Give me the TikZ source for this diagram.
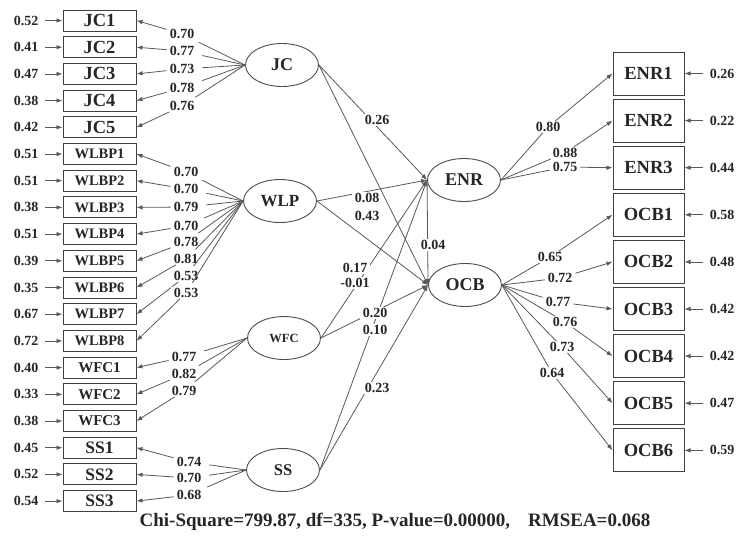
\documentclass[tikz,border=0pt]{standalone}
\usepackage{fontspec}
\setmainfont{Liberation Serif}
\usetikzlibrary{arrows.meta,shapes.geometric}

\begin{document}
\begin{tikzpicture}[x=1pt, y=-1pt,
  every node/.style={font=\bfseries\fontsize{14}{16}\selectfont, text=black!85},
  obs/.style={draw=black!75, line width=1pt, minimum width=73pt, minimum height=21pt, inner sep=0pt},
  obsr/.style={obs, minimum width=71pt, minimum height=43pt, font=\bfseries\fontsize{18.5}{20}\selectfont},
  lat/.style={ellipse, draw=black!70, line width=0.9pt, minimum width=73pt, minimum height=43pt, inner sep=0pt, font=\bfseries\fontsize{18}{20}\selectfont},
  val/.style={inner sep=1pt, inner xsep=3pt, fill=white},
  err/.style={inner sep=1pt, inner xsep=7pt},
  ln/.style={draw=black!65, line width=0.8pt},
  arr/.style={ln, -{Latex[length=6pt,width=4.5pt]}}]
  \useasboundingbox (0,0) rectangle (739,536);

  % indicators, left
  \foreach \nm [count=\i] in {JC1,JC2,JC3,JC4,JC5}
    \node[obs, font=\bfseries\fontsize{18.5}{20}\selectfont] (\nm) at (99.5,{20.5+26.7*(\i-1)}) {\nm};
  \foreach \nm [count=\i from 6] in {WLBP1,WLBP2,WLBP3,WLBP4,WLBP5,WLBP6,WLBP7,WLBP8}
    \node[obs, font=\bfseries\fontsize{14.5}{16}\selectfont] (\nm) at (99.5,{20.5+26.7*(\i-1)}) {\nm};
  \foreach \nm [count=\i from 14] in {WFC1,WFC2,WFC3}
    \node[obs, font=\bfseries\fontsize{15}{17}\selectfont] (\nm) at (99.5,{20.5+26.7*(\i-1)}) {\nm};
  \foreach \nm [count=\i from 17] in {SS1,SS2,SS3}
    \node[obs, font=\bfseries\fontsize{17.5}{19}\selectfont] (\nm) at (99.5,{20.5+26.7*(\i-1)}) {\nm};

  % indicators, right
  \foreach \nm [count=\i] in {ENR1,ENR2,ENR3,OCB1,OCB2,OCB3,OCB4,OCB5,OCB6}
    \node[obsr] (\nm) at (648.5,{73.5+47.1*(\i-1)}) {\nm};

  % latent variables
  \node[lat] (JC) at (282,65) {JC};
  \node[lat, font=\bfseries\fontsize{17}{19}\selectfont] (WLP) at (280,201) {WLP};
  \node[lat, font=\bfseries\fontsize{12.5}{14}\selectfont] (WFC) at (284,338) {WFC};
  \node[lat, font=\bfseries\fontsize{16.5}{18}\selectfont] (SS) at (283,470) {SS};
  \node[lat] (ENR) at (464,180) {ENR};
  \node[lat] (OCB) at (465,285) {OCB};

  % error variances
  \foreach \nm/\e in {JC1/0.52, JC2/0.41, JC3/0.47, JC4/0.38, JC5/0.42,
      WLBP1/0.51, WLBP2/0.51, WLBP3/0.38, WLBP4/0.51, WLBP5/0.39, WLBP6/0.35, WLBP7/0.67, WLBP8/0.72,
      WFC1/0.40, WFC2/0.33, WFC3/0.38, SS1/0.45, SS2/0.52, SS3/0.54} {
    \node[err] (e\nm) at ([xshift=-73.5pt]\nm.center) {\e};
    \draw[arr] (e\nm) -- (\nm);
  }
  \foreach \nm/\e in {ENR1/0.26, ENR2/0.22, ENR3/0.44, OCB1/0.58, OCB2/0.48,
      OCB3/0.42, OCB4/0.42, OCB5/0.47, OCB6/0.59} {
    \node[err] (e\nm) at ([xshift=73.5pt]\nm.center) {\e};
    \draw[arr] (e\nm) -- (\nm);
  }

  % loadings, left
  \foreach \lv/\nm/\v/\x/\y in {JC/JC1/0.70/182/34, JC/JC2/0.77/182/51, JC/JC3/0.73/182/69,
      JC/JC4/0.78/182/88, JC/JC5/0.76/182/106,
      WLP/WLBP1/0.70/186/172, WLP/WLBP2/0.70/186/189, WLP/WLBP3/0.79/186/207, WLP/WLBP4/0.70/186/226,
      WLP/WLBP5/0.78/186/242, WLP/WLBP6/0.81/186/259, WLP/WLBP7/0.53/186/276, WLP/WLBP8/0.53/186/293,
      WFC/WFC1/0.77/184/357, WFC/WFC2/0.82/184/374, WFC/WFC3/0.79/184/391,
      SS/SS1/0.74/189/462, SS/SS2/0.70/189/478, SS/SS3/0.68/189/495} {
    \node[val] (l\nm) at (\x,\y) {\v};
    \draw[ln, shorten >=5pt] (\lv.west) -- (l\nm);
    \draw[arr] (l\nm) -- (\nm.east);
  }

  % loadings, right
  \foreach \lv/\nm/\v/\x/\y in {ENR/ENR1/0.80/548/127, ENR/ENR2/0.88/565/153, ENR/ENR3/0.75/565/167,
      OCB/OCB1/0.65/550/257, OCB/OCB2/0.72/560/278, OCB/OCB3/0.77/558/302,
      OCB/OCB4/0.76/565/322, OCB/OCB5/0.73/562/347, OCB/OCB6/0.64/552/373} {
    \node[val] (l\nm) at (\x,\y) {\v};
    \draw[ln] (\lv.east) -- (l\nm);
    \draw[arr] (l\nm) -- (\nm.west);
  }

  % structural paths
  \foreach \a in {JC,WLP,WFC,SS} {
    \draw[arr] (\a.east) -- (ENR.west);
    \draw[arr] (\a.east) -- (OCB.west);
  }
  \draw[arr] (ENR.west) -- (OCB.west);

  % path coefficients
  \foreach \v/\x/\y [count=\k] in {0.26/377/120, 0.08/367/198, 0.43/367/216, 0.04/433/245,
      0.17/355/268, -0.01/355/283, 0.20/375/313, 0.10/375/330, 0.23/377/388}
    \node[val] (c\k) at (\x,\y) {\v};

  % fit
  \node[font=\bfseries\fontsize{19}{21}\selectfont] (stats) at (395,522)
    {Chi-Square=799.87, df=335, P-value=0.00000,\hspace{18pt}RMSEA=0.068};
\end{tikzpicture}
\end{document}
